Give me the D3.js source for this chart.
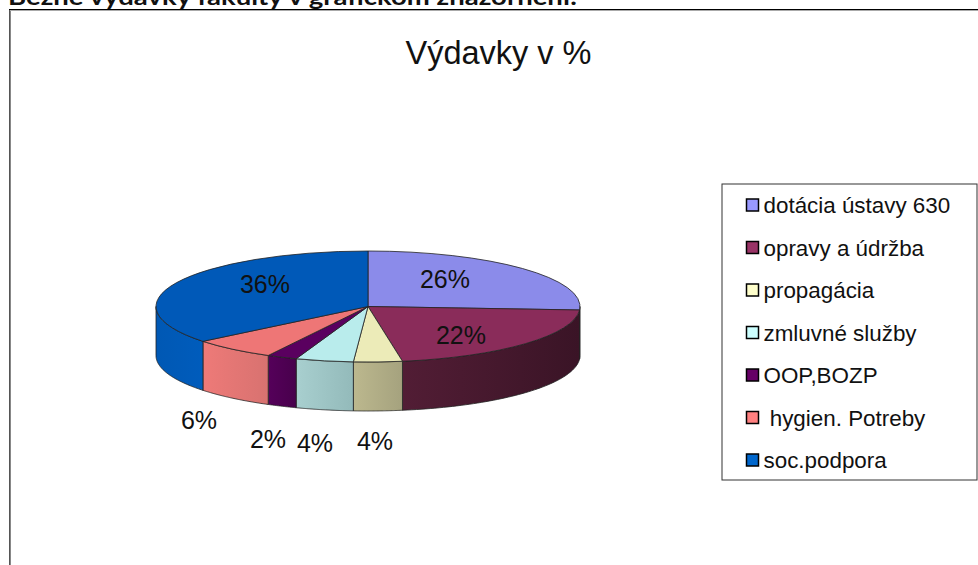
<!DOCTYPE html>
<html><head><meta charset="utf-8">
<script src="https://cdn.jsdelivr.net/npm/d3@7/dist/d3.min.js"></script>
<style>html,body{margin:0;padding:0;background:#fff;overflow:hidden}svg{display:block}</style>
</head><body><svg id="c" width="978" height="565"></svg>
<script>
const heading = "Bežné výdavky fakulty v grafickom znázornení:";
const chartTitle = "Výdavky v %";
const categories = ["dotácia ústavy 630","opravy a údržba","propagácia","zmluvné služby","OOP,BOZP"," hygien. Potreby","soc.podpora"];
const values = [26,21.4,3.7,4.4,2.3,6.4,35.8];
const labels = ["26%","22%","4%","4%","2%","6%","36%"];
const topColors = ["#8b8bea","#8a2c5a","#ecebb8","#b9ecec","#5a005f","#ee7676","#0059b8"];
const legendColors = ["#9999ff","#993366","#ffffcc","#ccffff","#660066","#ff8080","#0066cc"];
const sideLeft = {1:"#521d35",2:"#bcb88e",3:"#a8cfcf",4:"#55005a",5:"#ee7a78",6:"#0058b4"};
const sideRight = {1:"#3a1426",2:"#a5a27e",3:"#93baba",4:"#48004c",5:"#d87270",6:"#005cbc"};
const labelPos = [[445,288],[461,344],[375,450],[315,452],[268,448],[199,429],[265,293]];

const svg = d3.select("#c");
const F = "'Liberation Sans',Arial,sans-serif";
const cx=368, cy=306.5, rx=212, ry=55.5, depth=49;

svg.append("text").attr("x",8).attr("y",5).attr("font-family","Lato,sans-serif").attr("font-weight",700)
  .attr("font-size",22).attr("textLength",569).attr("lengthAdjust","spacingAndGlyphs").attr("fill","#111").text(heading);

svg.append("path").attr("d","M9.5,565V9.5").attr("fill","none").attr("stroke","#555");
svg.append("path").attr("d","M10.5,565V10.5").attr("fill","none").attr("stroke","#888");
svg.append("path").attr("d","M9,9.5H978").attr("fill","none").attr("stroke","#000");
svg.append("path").attr("d","M10,10.5H978").attr("fill","none").attr("stroke","#aaa");

svg.append("text").attr("x",498.5).attr("y",64).attr("text-anchor","middle").attr("font-family",F)
  .attr("font-size",32.5).attr("fill","#111").text(chartTitle);

const pieGen = d3.pie().sort(null).startAngle(0).endAngle(2*Math.PI);
const arcs = pieGen(values);
const px = a => cx + rx*Math.sin(a), py = a => cy - ry*Math.cos(a);

const defs = svg.append("defs");
const g = svg.append("g");
const lineGen = d3.line();
arcs.forEach((d,i)=>{
  const a0=Math.max(d.startAngle,Math.PI/2), a1=Math.min(d.endAngle,3*Math.PI/2);
  if(a1<=a0) return;
  const ang=d3.range(0,61).map(k=>a0+(a1-a0)*k/60);
  const pts=[...ang.map(a=>[px(a),py(a)]),...ang.slice().reverse().map(a=>[px(a),py(a)+depth])];
  const id="g"+i;
  const lgr=defs.append("linearGradient").attr("id",id).attr("gradientUnits","userSpaceOnUse")
    .attr("x1",px(a1)).attr("x2",px(a0)).attr("y1",0).attr("y2",0);
  lgr.append("stop").attr("offset",0).attr("stop-color",sideLeft[i]);
  lgr.append("stop").attr("offset",1).attr("stop-color",sideRight[i]);
  g.append("path").attr("d",lineGen(pts)+"Z").attr("fill",`url(#${id})`).attr("stroke","#222").attr("stroke-width",.8).attr("stroke-linejoin","round");
});
const arcGen = d3.arc().innerRadius(0).outerRadius(rx);
const faces = g.append("g").attr("transform",`translate(${cx},${cy}) scale(1,${ry/rx})`);
faces.selectAll("path").data(arcs).join("path").attr("d",arcGen).attr("fill",(d,i)=>topColors[i])
  .attr("stroke","#222").attr("stroke-width",.8).attr("vector-effect","non-scaling-stroke");

svg.append("g").selectAll("text").data(labels).join("text")
  .attr("x",(d,i)=>labelPos[i][0]).attr("y",(d,i)=>labelPos[i][1]).attr("text-anchor","middle")
  .attr("font-family",F).attr("font-size",25).attr("fill","#111").text(d=>d);

const yL = d3.scalePoint().domain(categories).range([205,460]);
svg.append("rect").attr("x",722).attr("y",184).attr("width",255).attr("height",296).attr("fill","#fff").attr("stroke","#333");
const lg = svg.append("g").selectAll("g").data(categories).join("g").attr("transform",d=>`translate(0,${yL(d)})`);
lg.append("rect").attr("x",746.5).attr("y",-6).attr("width",12).attr("height",12)
  .attr("fill",(d,i)=>legendColors[i]).attr("stroke","#000").attr("stroke-width",1.5);
lg.append("text").attr("x",763.5).attr("y",8).style("white-space","pre").attr("font-family",F).attr("font-size",22.4).attr("fill","#111").text(d=>d);
</script></body></html>
